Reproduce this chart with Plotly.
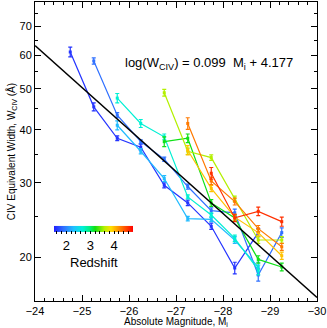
import plotly.graph_objects as go
from plotly.colors import sample_colorscale

# magnitude bins (M_i)
mag = [-24.75, -25.25, -25.75, -26.25, -26.75, -27.25, -27.75, -28.25, -28.75, -29.25]

# redshift of each curve
z_dark = 1.6
z_blue = 1.9
z_sky = 2.3
z_aqua = 2.7
z_green = 3.2
z_lime = 3.6
z_amber = 4.0
z_orange = 4.3
z_red = 4.6

# equivalent widths (A), None = no point in that bin
w_dark = [61.0, 45.3, 38.2, 36.4, 29.6, 26.9, 23.7, 18.9, 22.9, None]
w_blue = [None, 58.1, 43.3, 37.5, 34.1, 29.4, 25.8, 25.5, 18.2, 22.9]
w_sky = [None, None, 41.0, 35.6, 30.7, 24.7, 24.6, 22.0, 19.0, None]
w_aqua = [None, None, 47.5, 41.4, 38.5, 27.8, 25.2, 22.2, 18.7, None]
w_green = [None, None, None, None, 37.5, 38.2, 26.9, 24.8, 19.8, 19.0]
w_lime = [None, None, None, None, 48.9, 35.6, 34.4, 27.5, 22.0, 22.0]
w_amber = [None, None, None, None, None, 35.8, 29.1, 24.9, 22.9, 20.2]
w_orange = [None, None, None, None, None, 41.4, 30.3, 27.1, 23.4, 21.2]
w_red = [None, None, None, None, None, None, 31.6, 24.8, 25.7, 24.3]

# error bars
e_dark = [1.6, 1.0, 0.5, 0.6, 0.4, 0.4, 0.4, 0.6, 0.5, None]
e_blue = [None, 1.0, 0.6, 0.4, 0.4, 0.4, 0.4, 0.5, 0.6, 0.6]
e_sky = [None, None, 1.0, 0.5, 0.5, 0.3, 0.3, 0.4, 0.5, None]
e_aqua = [None, None, 1.2, 0.9, 0.6, 0.3, 0.3, 0.4, 0.5, None]
e_green = [None, None, None, None, 1.0, 0.9, 0.5, 0.4, 0.4, 0.4]
e_lime = [None, None, None, None, 0.9, 0.6, 0.5, 0.4, 0.4, 0.4]
e_amber = [None, None, None, None, None, 0.9, 0.5, 0.4, 0.4, 0.4]
e_orange = [None, None, None, None, None, 1.3, 0.6, 0.5, 0.4, 0.4]
e_red = [None, None, None, None, None, None, 1.0, 0.5, 0.6, 0.6]

series = [
    (z_dark, w_dark, e_dark),
    (z_blue, w_blue, e_blue),
    (z_sky, w_sky, e_sky),
    (z_aqua, w_aqua, e_aqua),
    (z_green, w_green, e_green),
    (z_lime, w_lime, e_lime),
    (z_amber, w_amber, e_amber),
    (z_orange, w_orange, e_orange),
    (z_red, w_red, e_red),
]

# fit log(W) = 0.099 M + 4.177, end points
fit_mag = [-24, -30]
fit_w = [63.2, 16.1]

# colour bar ticks
cbar_ticks = [1.6, 1.8, 2, 2.2, 2.4, 2.6, 2.8, 3, 3.2, 3.4, 3.6, 3.8, 4, 4.2, 4.4, 4.6]
cbar_labels = ["", "", "2", "", "", "", "", "3", "", "", "", "", "4", "", "", ""]

zmin, zmax = 1.5, 4.8
rainbow = [
    [0.00, "#2020ff"],
    [0.12, "#2f6fff"],
    [0.25, "#20c0ff"],
    [0.36, "#00f0d8"],
    [0.45, "#00f080"],
    [0.52, "#10e010"],
    [0.64, "#b8f000"],
    [0.72, "#ffe000"],
    [0.82, "#ff9000"],
    [1.00, "#ff0000"],
]

fig = go.Figure()

for z, w, e in series:
    col = sample_colorscale(rainbow, (z - zmin) / (zmax - zmin))[0]
    xs = [m for m, v in zip(mag, w) if v is not None]
    ys = [v for v in w if v is not None]
    es = [v for v in e if v is not None]
    fig.add_trace(go.Scatter(
        x=xs, y=ys, mode="lines+markers",
        line=dict(color=col, width=1.2),
        marker=dict(color=col, size=3, symbol="square"),
        error_y=dict(type="data", array=es, color=col, thickness=1.2, width=2),
        showlegend=False,
    ))

fig.add_trace(go.Scatter(
    x=fit_mag, y=fit_w, mode="lines",
    line=dict(color="black", width=1.5), showlegend=False,
))

# dummy trace carrying the redshift colour bar
fig.add_trace(go.Scatter(
    x=[None], y=[None], mode="markers", showlegend=False,
    marker=dict(
        color=[zmin, zmax], cmin=zmin, cmax=zmax, colorscale=rainbow,
        showscale=True,
        colorbar=dict(
            orientation="h", x=0.2087, xanchor="center",
            y=0.176, yanchor="middle", len=0.28, lenmode="fraction",
            thickness=6, outlinewidth=0, xpad=0, ypad=0,
            tickvals=cbar_ticks, ticktext=cbar_labels, tickangle=0,
            ticks="outside", ticklen=3, tickcolor="black",
            tickfont=dict(size=13, color="black"),
            title=dict(text="Redshift", side="bottom",
                       font=dict(size=13, color="black")),
        ),
    ),
))

fig.add_annotation(
    x=0.617, y=0.829, xref="paper", yref="paper", showarrow=False,
    text="log(W<sub>CIV</sub>) = 0.099  M<sub>i</sub> + 4.177",
    font=dict(size=13, color="black"),
)

fig.update_layout(
    width=327, height=328,
    margin=dict(l=35, r=10, t=2, b=27, autoexpand=False),
    paper_bgcolor="white", plot_bgcolor="white",
    font=dict(family="Liberation Sans, Arial, sans-serif", color="black"),
)

fig.update_xaxes(
    range=[-24, -30], dtick=1, showgrid=False, zeroline=False,
    showline=True, linecolor="black", linewidth=1, mirror="allticks",
    ticks="inside", ticklen=6, tickcolor="black",
    tickfont=dict(size=11), automargin=False,
    minor=dict(dtick=0.2, ticks="inside", ticklen=3, tickcolor="black"),
    title=dict(text="Absolute Magnitude, M<sub>i</sub>", font=dict(size=10),
               standoff=0),
)

fig.update_yaxes(
    type="log", range=[1.1987, 1.9031], showgrid=False, zeroline=False,
    tickvals=[20, 30, 40, 50, 60, 70], automargin=False,
    showline=True, linecolor="black", linewidth=1, mirror="allticks",
    ticks="inside", ticklen=6, tickcolor="black",
    tickfont=dict(size=11),
    minor=dict(tick0=5, dtick="L5", ticks="inside", ticklen=3,
               tickcolor="black"),
    title=dict(text="CIV Equivalent Width, W<sub>CIV</sub> (Å)",
               font=dict(size=10), standoff=2),
)

# page body has a default margin; drop it so the figure sits at the corner
fig.write_html("out.html", config={"displayModeBar": False},
               post_script="document.body.style.margin='0px';")
